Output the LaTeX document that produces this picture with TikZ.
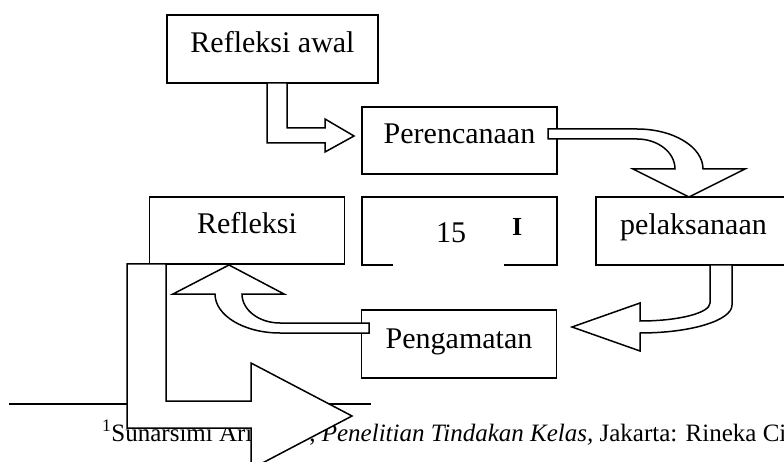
\documentclass[tikz,border=0pt]{standalone}
\usepackage{fontspec}
\setmainfont{Liberation Serif}
\tikzset{
  kotak/.style={draw,line width=1.5pt,minimum width=195pt,inner sep=0pt,text height=38pt,text depth=30pt,font=\fontsize{30}{36}\selectfont},
  panah/.style={draw,fill=white,line width=1.5pt,line join=miter}
}
\begin{document}
\begin{tikzpicture}[x=1pt,y=-1pt]
\useasboundingbox (0,0) rectangle (784,462);
\draw (272.5,49) node [kotak,minimum width=211pt] (awal) {Refleksi awal};
\draw (459.5,140.5) node [kotak,text height=37pt] (rencana) {Perencanaan};
\draw (693.5,231) node [kotak] (laksana) {pelaksanaan};
\draw (247,230.5) node [kotak,text height=37pt] (refleksi) {Refleksi};
\draw (459,344) node [kotak] (amat) {Pengamatan};
\draw[line width=1.5pt] (393,265) -- (362,265) -- (362,197) -- (557,197) -- (557,265) -- (504,265);
\draw (436,243) node [anchor=base west,inner sep=0pt,font=\fontsize{30}{36}\selectfont] (hal) {15};
\draw (512,236) node [anchor=base west,inner sep=0pt,font=\fontsize{26}{30}\selectfont\bfseries] (judul) {I};
\draw[line width=1.2pt] (9,404) -- (371,404);
\draw (102,441) node [anchor=base west,inner sep=0pt,font=\fontsize{25}{30}\selectfont] (catatan) {\textsuperscript{1}Sunarsimi Arikunto, \textit{Penelitian Tindakan Kelas,} Jakarta: Rineka Cipta};
\draw[panah] (267,83) -- (267,143) -- (325,143) -- (325,152) -- (354,136) -- (325,119) -- (325,128) -- (287,128) -- (287,83) -- cycle;
\draw[panah] (548,129) -- (637,129) .. controls (673.4,129) and (703,146.9) .. (703,169) -- (745,169) -- (689,197) -- (633,169) -- (675,169) .. controls (675,152.4) and (658,139) .. (637,139) -- (548,139) -- cycle;
\draw[panah] (710,265) -- (710,303) .. controls (710,313) and (678.6,321) .. (640,321) -- (640,303) -- (572,327) -- (640,351) -- (640,333) .. controls (690.8,333) and (732,320.5) .. (732,305) -- (732,265) -- cycle;
\draw[panah] (369,323) -- (280,323) .. controls (259,323) and (242,310) .. (242,294) -- (284,294) -- (229,265) -- (173,294) -- (215,294) .. controls (215,315.5) and (244,333) .. (280,333) -- (369,333) -- cycle;
\draw[panah] (127,264) -- (127,428) -- (251,428) -- (251,469) -- (352,416) -- (251,363) -- (251,401) -- (166,401) -- (166,264) -- cycle;
\end{tikzpicture}
\end{document}
